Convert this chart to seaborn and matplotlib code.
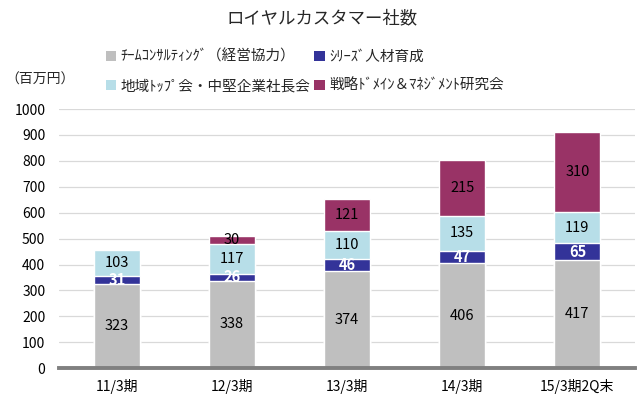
import numpy as np
import pandas as pd
import matplotlib
matplotlib.use("Agg")
import matplotlib.pyplot as plt
from matplotlib.patches import Patch
import seaborn as sns

# data, bottom segment first
periods = ["11/3期", "12/3期", "13/3期", "14/3期", "15/3期2Q末"]
series_names = ["ﾁｰﾑｺﾝｻﾙﾃｨﾝｸﾞ（経営協力）", "ｼﾘｰｽﾞ人材育成",
                "地域ﾄｯﾌﾟ会・中堅企業社長会", "戦略ﾄﾞﾒｲﾝ＆ﾏﾈｼﾞﾒﾝﾄ研究会"]
team_consulting = [323, 338, 374, 406, 417]
series_training = [31, 26, 46, 47, 65]
regional_top = [103, 117, 110, 135, 119]
strategy_domain = [0, 30, 121, 215, 310]

colors = ["#BFBFBF", "#333399", "#B7DEE8", "#993366"]
label_colors = ["black", "white", "black", "black"]

values = np.array([team_consulting, series_training, regional_top, strategy_domain])
tops = values.cumsum(axis=0)
bottoms = tops - values

sns.set_theme(style="white")
plt.rcParams["font.family"] = ["Noto Sans CJK JP", "DejaVu Sans"]

fig = plt.figure(figsize=(6.44, 3.98), dpi=100)
ax = fig.add_axes([0.092, 0.075, 0.894, 0.651])

# stacked bars: draw cumulative totals from the top series down
for i in range(len(series_names) - 1, -1, -1):
    df = pd.DataFrame({"period": periods, "total": tops[i]})
    sns.barplot(data=df, x="period", y="total", color=colors[i],
                saturation=1, width=0.4, ax=ax, zorder=2)

for i in range(len(series_names)):
    for j in range(len(periods)):
        if values[i, j] == 0:
            continue
        ax.text(j, bottoms[i, j] + values[i, j] / 2, str(values[i, j]),
                ha="center", va="center", fontsize=10.5, color=label_colors[i],
                fontweight="bold" if label_colors[i] == "white" else "normal",
                zorder=3)

ax.set_ylim(0, 1000)
ax.set_xlim(-0.5, len(periods) - 0.5)
ax.set_yticks(range(0, 1001, 100))
ax.yaxis.grid(True, color="#D9D9D9", linewidth=0.9, zorder=0)
ax.set_axisbelow(True)
ax.set_xlabel("")
ax.set_ylabel("")
for s in ["left", "right", "top"]:
    ax.spines[s].set_visible(False)
ax.spines["bottom"].set_color("#808080")
ax.spines["bottom"].set_linewidth(2.8)
ax.tick_params(axis="y", length=0, labelsize=10, pad=10, colors="black")
ax.tick_params(axis="x", which="major", length=0, labelsize=10, pad=8, colors="black")
ax.set_xticks(np.arange(-0.5, len(periods)), minor=True)
ax.tick_params(axis="x", which="minor", length=4, width=2, color="#808080", direction="out")

fig.text(0.5, 0.955, "ロイヤルカスタマー社数", ha="center", va="center", fontsize=12.5)
fig.text(0.008, 0.80, "（百万円）", ha="left", va="center", fontsize=10)

handles = [Patch(facecolor=c, edgecolor="none") for c in colors]
order = [0, 2, 1, 3]
fig.legend([handles[k] for k in order], [series_names[k] for k in order],
           ncol=2, loc="upper left", bbox_to_anchor=(0.155, 0.89), frameon=False,
           fontsize=10.5, handlelength=0.7, handleheight=0.7, handletextpad=0.3,
           columnspacing=0.3, labelspacing=1.05, borderaxespad=0)

fig.savefig("out.png", dpi=100)
